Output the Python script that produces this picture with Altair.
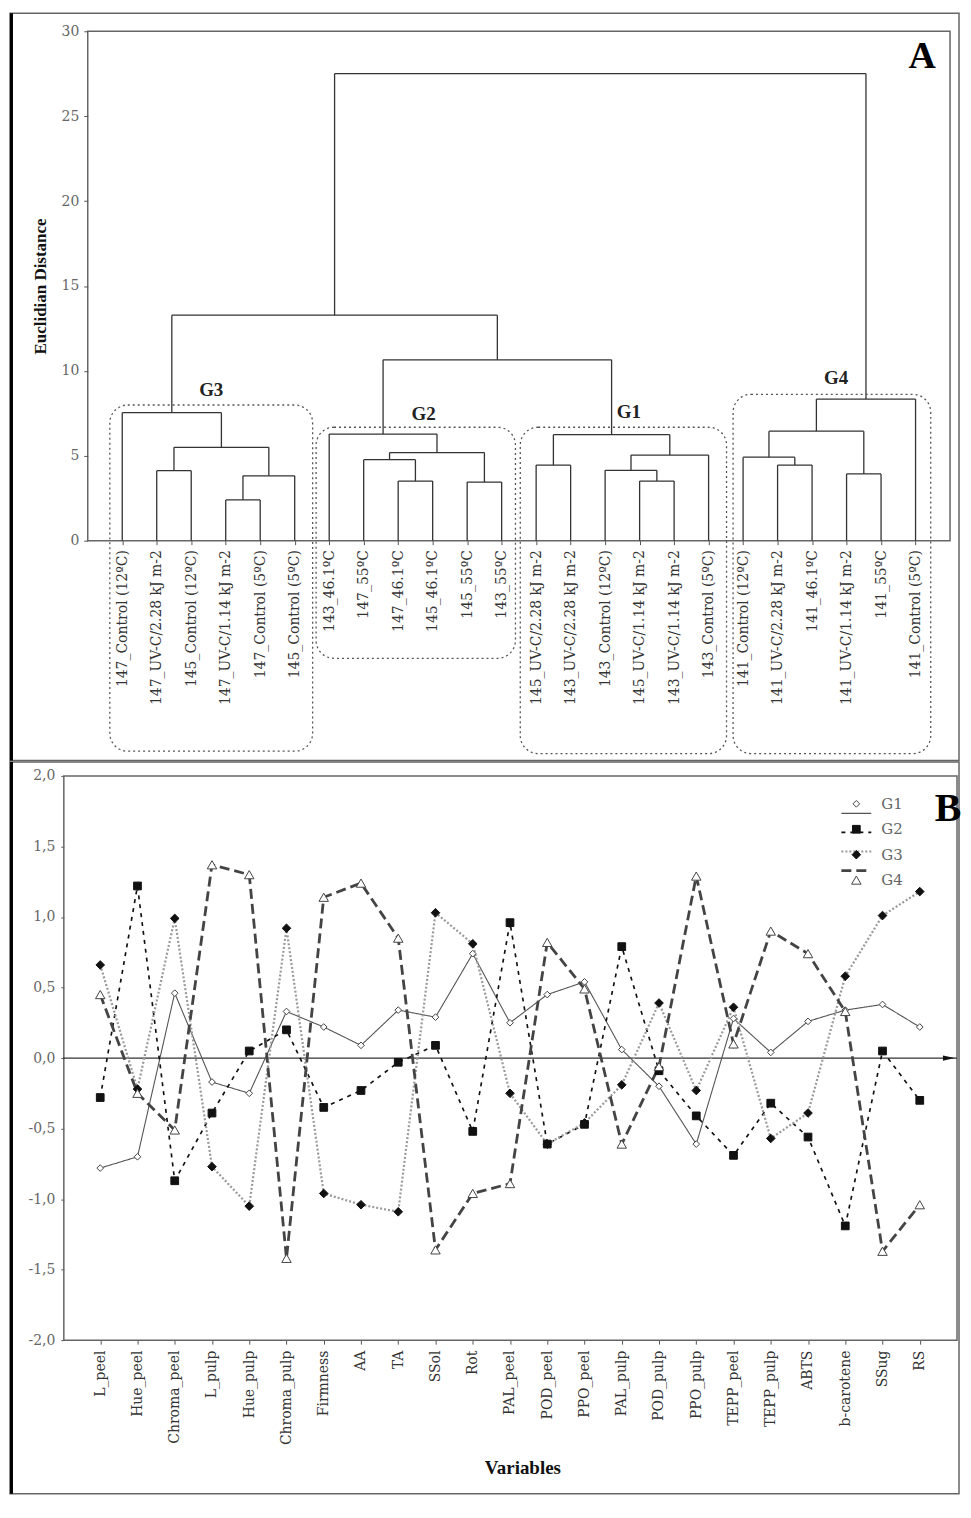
import json
import altair as alt
import pandas as pd

# ---------------- Panel A data: dendrogram ----------------
leaf_labels = [
    "147_Control (12ºC)", "147_UV-C/2.28 kJ m-2", "145_Control (12ºC)",
    "147_UV-C/1.14 kJ m-2", "147_Control (5ºC)", "145_Control (5ºC)",
    "143_46.1ºC", "147_55ºC", "147_46.1ºC", "145_46.1ºC", "145_55ºC", "143_55ºC",
    "145_UV-C/2.28 kJ m-2", "143_UV-C/2.28 kJ m-2", "143_Control (12ºC)",
    "145_UV-C/1.14 kJ m-2", "143_UV-C/1.14 kJ m-2", "143_Control (5ºC)",
    "141_Control (12ºC)", "141_UV-C/2.28 kJ m-2", "141_46.1ºC",
    "141_UV-C/1.14 kJ m-2", "141_55ºC", "141_Control (5ºC)",
]
# merges: node ids 1..24 are leaves, merge k creates node 25+k
merge_left = [4, 25, 2, 27, 1, 9, 8, 11, 31, 7, 13, 16, 15, 37, 35, 20, 19, 22, 41, 43, 34, 29, 46]
merge_right = [5, 6, 3, 26, 28, 10, 30, 12, 32, 33, 14, 17, 36, 18, 38, 21, 40, 23, 42, 24, 39, 45, 44]
merge_height = [2.4, 3.82, 4.12, 5.5, 7.54, 3.51, 4.77, 3.45, 5.19, 6.28,
                4.45, 3.51, 4.14, 5.04, 6.24, 4.45, 4.92, 3.93, 6.45, 8.34,
                10.65, 13.28, 27.5]

group_names = ["G3", "G2", "G1", "G4"]
box_x0 = [0.64, 6.62, 12.54, 18.71]
box_x1 = [6.52, 12.4, 18.52, 24.44]
box_top = [7.99, 6.68, 6.68, 8.62]
box_bottom = [-12.4, -6.93, -12.54, -12.54]
group_label_x = [3.58, 9.74, 15.69, 21.7]
group_label_y = [8.85, 7.44, 7.6, 9.55]

# ---------------- Panel B data ----------------
variables = ["L_peel", "Hue_peel", "Chroma_peel", "L_pulp", "Hue_pulp", "Chroma_pulp",
             "Firmness", "AA", "TA", "SSol", "Rot", "PAL_peel", "POD_peel", "PPO_peel",
             "PAL_pulp", "POD_pulp", "PPO_pulp", "TEPP_peel", "TEPP_pulp", "ABTS",
             "b-carotene", "SSug", "RS"]
g1 = [-0.78, -0.70, 0.46, -0.17, -0.25, 0.33, 0.22, 0.09, 0.34, 0.29, 0.74, 0.25,
      0.45, 0.54, 0.06, -0.20, -0.61, 0.28, 0.04, 0.26, 0.34, 0.38, 0.22]
g2 = [-0.28, 1.22, -0.87, -0.39, 0.05, 0.20, -0.35, -0.23, -0.03, 0.09, -0.52, 0.96,
      -0.61, -0.47, 0.79, -0.09, -0.41, -0.69, -0.32, -0.56, -1.19, 0.05, -0.30]
g3 = [0.66, -0.22, 0.99, -0.77, -1.05, 0.92, -0.96, -1.04, -1.09, 1.03, 0.81, -0.25,
      -0.61, -0.46, -0.19, 0.39, -0.23, 0.36, -0.57, -0.39, 0.58, 1.01, 1.18]
g4 = [0.45, -0.25, -0.51, 1.37, 1.30, -1.42, 1.14, 1.24, 0.85, -1.36, -0.96, -0.89,
      0.82, 0.49, -0.61, -0.06, 1.29, 0.10, 0.90, 0.74, 0.33, -1.37, -1.04]
series_names = ["G1", "G2", "G3", "G4"]
zero_line_x = [0, 24]
arrow_x = [23.78]

SERIF = "DejaVu Serif"
TSERIF = "Liberation Serif"

# ---------------- build dendrogram segments ----------------
node_x = {i + 1: float(i + 1) for i in range(len(leaf_labels))}
node_h = {i + 1: 0.0 for i in range(len(leaf_labels))}
segs = []
for k, (a, b, h) in enumerate(zip(merge_left, merge_right, merge_height)):
    xa, xb = node_x[a], node_x[b]
    segs.append({"x": xa, "x2": xa, "y": node_h[a], "y2": h})
    segs.append({"x": xb, "x2": xb, "y": node_h[b], "y2": h})
    segs.append({"x": xa, "x2": xb, "y": h, "y2": h})
    nid = len(leaf_labels) + 1 + k
    node_x[nid] = (xa + xb) / 2
    node_h[nid] = h
seg_df = pd.DataFrame(segs)
box_df = pd.DataFrame({"g": group_names, "x": box_x0, "x2": box_x1, "y": box_top, "y2": box_bottom})
glab_df = pd.DataFrame({"g": group_names, "x": group_label_x, "y": group_label_y})

WA, HA = 865, 511
A_TOP = -18
FRAME_R = 874
leaf_expr = json.dumps(leaf_labels) + "[datum.value - 1]"
xA_scale = alt.Scale(domain=[0, 25], nice=False, zero=False)
yA_scale = alt.Scale(domain=[0, 30], nice=False)
xA_axis = alt.Axis(values=list(range(1, 25)), labelExpr=leaf_expr, labelAngle=-90,
                   title=None, grid=False, domain=False, tickSize=4, tickColor="#555",
                   labelFont=SERIF, labelFontSize=14, labelColor="#333",
                   labelPadding=5, labelLimit=400)
yA_axis = alt.Axis(values=[0, 5, 10, 15, 20, 25, 30], title="Euclidian Distance",
                   titleFont=TSERIF, titleFontWeight="bold", titleFontSize=17,
                   titleColor="#111", titlePadding=12, grid=False, domain=False,
                   tickSize=4, tickColor="#555", labelFont=SERIF, labelFontSize=14,
                   labelColor="#666", labelPadding=5)

one = pd.DataFrame({"t": ["A"]})
frameA = alt.Chart(one).mark_rect(fill="white", fillOpacity=0, stroke="#666", strokeWidth=1.5).encode(
    x=alt.value(-78), x2=alt.value(FRAME_R), y=alt.value(A_TOP), y2=alt.value(731.5))
leftA = alt.Chart(one).mark_rule(color="black", strokeWidth=3).encode(
    x=alt.value(-76.5), y=alt.value(A_TOP), y2=alt.value(731.5))

dend = alt.Chart(seg_df).mark_rule(color="#333", strokeWidth=1.3).encode(
    x=alt.X("x:Q", scale=xA_scale, axis=xA_axis),
    x2="x2:Q",
    y=alt.Y("y:Q", scale=yA_scale, axis=yA_axis),
    y2="y2:Q",
)
boxes = alt.Chart(box_df).mark_rect(cornerRadius=18, fill="white", fillOpacity=0,
                                    stroke="#555", strokeWidth=1.3, strokeDash=[2, 3]).encode(
    x=alt.X("x:Q", scale=xA_scale, axis=xA_axis), x2="x2:Q",
    y=alt.Y("y:Q", scale=yA_scale, axis=yA_axis), y2="y2:Q")
glabels = alt.Chart(glab_df).mark_text(font=TSERIF, fontWeight="bold", fontSize=19,
                                       color="#222", baseline="middle").encode(
    x=alt.X("x:Q", scale=xA_scale, axis=xA_axis),
    y=alt.Y("y:Q", scale=yA_scale, axis=yA_axis), text="g:N")
letterA = alt.Chart(one).mark_text(font=TSERIF, fontWeight="bold", fontSize=38,
                                   color="black", baseline="middle").encode(
    x=alt.value(837), y=alt.value(26), text="t:N")

chartA = alt.layer(frameA, leftA, dend, boxes, glabels, letterA).properties(width=WA, height=HA)

# ---------------- Panel B ----------------
rows = []
for name, vals in zip(series_names, [g1, g2, g3, g4]):
    for i, (v, val) in enumerate(zip(variables, vals)):
        rows.append({"group": name, "vi": i + 1, "variable": v, "value": val})
dfB = pd.DataFrame(rows)

# plot area of B starts at the same x as A (aligned); its frame is drawn 24px further left
B_SHIFT = 24
WB, HB = 872, 566
B_BOTTOM = 720
var_expr = json.dumps(variables) + "[datum.value - 1]"
xB_scale = alt.Scale(domain=[0.665, 24], nice=False, zero=False)
yB_scale = alt.Scale(domain=[-2, 2], nice=False)
xB_axis = alt.Axis(values=list(range(1, 24)), labelExpr=var_expr, labelAngle=-90,
                   title="Variables", titleFont=TSERIF, titleFontWeight="bold",
                   titleFontSize=19, titleColor="#111", titlePadding=14,
                   grid=False, domain=False, tickSize=4, tickColor="#555",
                   labelFont=SERIF, labelFontSize=14, labelColor="#333",
                   labelPadding=6, labelLimit=400)
yB_axis = alt.Axis(values=[-2, -1.5, -1, -0.5, 0, 0.5, 1, 1.5, 2],
                   labelExpr="(datum.value < 0 ? '-' : '') + replace(format(abs(datum.value), '.1f'), '.', ',')",
                   title=None, grid=False, domain=False, tickSize=3, tickColor="#555",
                   labelFont=SERIF, labelFontSize=14, labelColor="#666", labelPadding=6,
                   offset=B_SHIFT)

dash_scale = alt.Scale(domain=series_names, range=[[1, 0], [4, 5], [2, 2], [10, 5]])
col_scale = alt.Scale(domain=series_names, range=["#555555", "#111111", "#9a9a9a", "#444444"])
sw_scale = alt.Scale(domain=series_names, range=[1.1, 2.8, 1.3, 1.0])
shape_scale = alt.Scale(domain=series_names, range=["diamond", "square", "diamond", "triangle-up"])
fill_scale = alt.Scale(domain=series_names, range=["white", "#111111", "#111111", "white"])
pstroke_scale = alt.Scale(domain=series_names, range=["#444444", "#111111", "#111111", "#444444"])
size_scale = alt.Scale(domain=series_names, range=[45, 90, 55, 70])

lines = alt.Chart(dfB).mark_line().encode(
    x=alt.X("vi:Q", scale=xB_scale, axis=xB_axis),
    y=alt.Y("value:Q", scale=yB_scale, axis=yB_axis),
    color=alt.Color("group:N", scale=col_scale, legend=None),
    strokeDash=alt.StrokeDash("group:N", scale=dash_scale, legend=None),
    strokeWidth=alt.StrokeWidth("group:N", scale=sw_scale, legend=None),
    order="vi:Q",
)
pts = alt.Chart(dfB).mark_point(filled=True, strokeWidth=1, opacity=1).encode(
    x=alt.X("vi:Q", scale=xB_scale, axis=xB_axis),
    y=alt.Y("value:Q", scale=yB_scale, axis=yB_axis),
    shape=alt.Shape("group:N", scale=shape_scale, legend=None),
    fill=alt.Fill("group:N", scale=fill_scale, legend=None),
    stroke=alt.Stroke("group:N", scale=pstroke_scale, legend=None),
    size=alt.Size("group:N", scale=size_scale, legend=None),
)
zero_df = pd.DataFrame({"x": [zero_line_x[0]], "x2": [zero_line_x[1]], "y": [0.0]})
zero = alt.Chart(zero_df).mark_rule(color="#333", strokeWidth=1.3).encode(
    x=alt.X("x:Q", scale=xB_scale, axis=xB_axis), x2="x2:Q",
    y=alt.Y("y:Q", scale=yB_scale, axis=yB_axis))
arrow_df = pd.DataFrame({"x": arrow_x, "y": [0.0]})
arrow = alt.Chart(arrow_df).mark_point(shape="M-1,-0.45L1,0L-1,0.45Z", filled=True, color="#111",
                                       size=140, opacity=1).encode(
    x=alt.X("x:Q", scale=xB_scale, axis=xB_axis),
    y=alt.Y("y:Q", scale=yB_scale, axis=yB_axis))

data_layers = alt.layer(zero, arrow, lines, pts)

leg_df = pd.DataFrame({"group": series_names})
leg_y = alt.Y("group:N", scale=alt.Scale(domain=series_names, range=[28, 104.5], padding=0), axis=None)
leg_line = alt.Chart(leg_df).mark_rule().encode(
    x=alt.value(780 - B_SHIFT), x2=alt.value(810 - B_SHIFT), y=leg_y,
    color=alt.Color("group:N", scale=col_scale, legend=None),
    strokeDash=alt.StrokeDash("group:N", scale=dash_scale, legend=None),
    strokeWidth=alt.StrokeWidth("group:N", scale=sw_scale, legend=None))
leg_pts = alt.Chart(leg_df).mark_point(filled=True, strokeWidth=1, opacity=1).encode(
    x=alt.value(795 - B_SHIFT), y=leg_y,
    shape=alt.Shape("group:N", scale=shape_scale, legend=None),
    fill=alt.Fill("group:N", scale=fill_scale, legend=None),
    stroke=alt.Stroke("group:N", scale=pstroke_scale, legend=None),
    size=alt.Size("group:N", scale=size_scale, legend=None))
leg_txt = alt.Chart(leg_df).mark_text(font=SERIF, fontSize=15, color="#666",
                                      align="left", baseline="middle").encode(
    x=alt.value(820 - B_SHIFT), y=leg_y, text="group:N")

oneB = pd.DataFrame({"t": ["B"]})
frameB = alt.Chart(oneB).mark_rect(fill="white", fillOpacity=0, stroke="#666", strokeWidth=1.5).encode(
    x=alt.value(-78), x2=alt.value(FRAME_R), y=alt.value(-14), y2=alt.value(B_BOTTOM))
plotB = alt.Chart(oneB).mark_rect(fill="white", fillOpacity=0, stroke="#666", strokeWidth=1.5).encode(
    x=alt.value(-B_SHIFT), x2=alt.value(WB), y=alt.value(0), y2=alt.value(HB))
leftB = alt.Chart(oneB).mark_rule(color="black", strokeWidth=3).encode(
    x=alt.value(-76.5), y=alt.value(-14), y2=alt.value(B_BOTTOM))
letterB = alt.Chart(oneB).mark_text(font=TSERIF, fontWeight="bold", fontSize=40,
                                    color="black", baseline="middle").encode(
    x=alt.value(887 - B_SHIFT), y=alt.value(33), text="t:N")

chartB = alt.layer(frameB, plotB, leftB, data_layers, leg_line, leg_pts, leg_txt, letterB).resolve_scale(
    y="independent").properties(width=WB, height=HB,
                                view=alt.ViewConfig(stroke="transparent"))

# plot tops: A at ~30, B at 777 -> gap between plot areas
chart = alt.vconcat(chartA, chartB, spacing=236, bounds="flush").properties(
    padding=0
).configure_view(stroke="#666", strokeWidth=1.5)

chart.save("out.html", embed_options={"renderer": "svg", "actions": False})
